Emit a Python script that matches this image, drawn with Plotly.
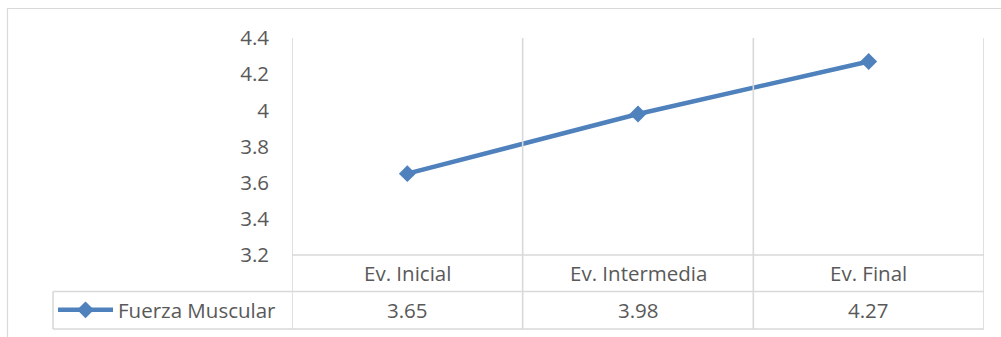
import plotly.graph_objects as go

categories = ["Ev. Inicial", "Ev. Intermedia", "Ev. Final"]
fuerza_muscular = [3.65, 3.98, 4.27]
series_name = "Fuerza Muscular"
y_ticks = [3.2, 3.4, 3.6, 3.8, 4.0, 4.2, 4.4]
y_tick_labels = ["3.2", "3.4", "3.6", "3.8", "4", "4.2", "4.4"]

W, H = 1001, 337
L, R, T, B = 292, 17, 38, 82
PW, PH = W - L - R, H - T - B

def px_x(px):
    return (px - L) / PW

def px_y(py):
    return (H - B - py) / PH

BLUE = "#4F81BD"
GRID = "#D9D9D9"
TXT = "#595959"
FONT = "Open Sans"
FS = 20.5

fig = go.Figure()
fig.add_trace(go.Scatter(
    x=categories, y=fuerza_muscular, mode="lines+markers", name=series_name,
    line=dict(color=BLUE, width=4.5),
    marker=dict(symbol="diamond", size=13, color=BLUE),
    showlegend=True,
))

shapes = []
# outer chart border
shapes.append(dict(type="rect", xref="paper", yref="paper",
                   x0=px_x(7.5), x1=px_x(1010), y0=px_y(345), y1=px_y(8.5),
                   line=dict(color=GRID, width=1.2)))
# vertical lines at category boundaries (through plot and table)
n = len(categories)
for i in range(n + 1):
    shapes.append(dict(type="line", xref="x", yref="paper",
                       x0=i - 0.5, x1=i - 0.5, y0=px_y(329), y1=1,
                       line=dict(color=GRID, width=1.6)))
# plot bottom / header top
shapes.append(dict(type="line", xref="paper", yref="paper",
                   x0=0, x1=1, y0=0, y1=0, line=dict(color=GRID, width=1.6)))
# value row top and bottom
for py in (291.5, 329):
    shapes.append(dict(type="line", xref="paper", yref="paper",
                       x0=px_x(53), x1=1, y0=px_y(py), y1=px_y(py),
                       line=dict(color=GRID, width=1.6)))
# legend cell left border
shapes.append(dict(type="line", xref="paper", yref="paper",
                   x0=px_x(53), x1=px_x(53), y0=px_y(329), y1=px_y(291.5),
                   line=dict(color=GRID, width=1.6)))

annotations = []
for c, v in zip(categories, fuerza_muscular):
    annotations.append(dict(x=c, xref="x", y=px_y(273), yref="paper", text=c,
                            showarrow=False, xanchor="center", yanchor="middle",
                            font=dict(family=FONT, size=FS, color=TXT)))
    annotations.append(dict(x=c, xref="x", y=px_y(310), yref="paper", text=f"{v:.2f}",
                            showarrow=False, xanchor="center", yanchor="middle",
                            font=dict(family=FONT, size=FS, color=TXT)))

fig.update_layout(
    width=W, height=H,
    margin=dict(l=L, r=R, t=T, b=B, pad=0, autoexpand=False),
    paper_bgcolor="white", plot_bgcolor="white",
    font=dict(family=FONT, size=FS, color=TXT),
    xaxis=dict(type="category", range=[-0.5, n - 0.5], showgrid=False, zeroline=False,
               showticklabels=False, ticks="", showline=False, fixedrange=True,
               automargin=False),
    yaxis=dict(range=[3.2, 4.4], tickvals=y_ticks, ticktext=y_tick_labels,
               showgrid=False, zeroline=False, ticks="", showline=False, automargin=False,
               ticklabelstandoff=22, tickfont=dict(family=FONT, size=FS, color=TXT)),
    shapes=shapes,
    annotations=annotations,
    showlegend=True,
    legend=dict(x=px_x(53), y=px_y(310), xanchor="left", yanchor="middle",
                bgcolor="rgba(0,0,0,0)", itemwidth=55,
                font=dict(family=FONT, size=FS, color=TXT)),
)

fig.write_html("out.html")
